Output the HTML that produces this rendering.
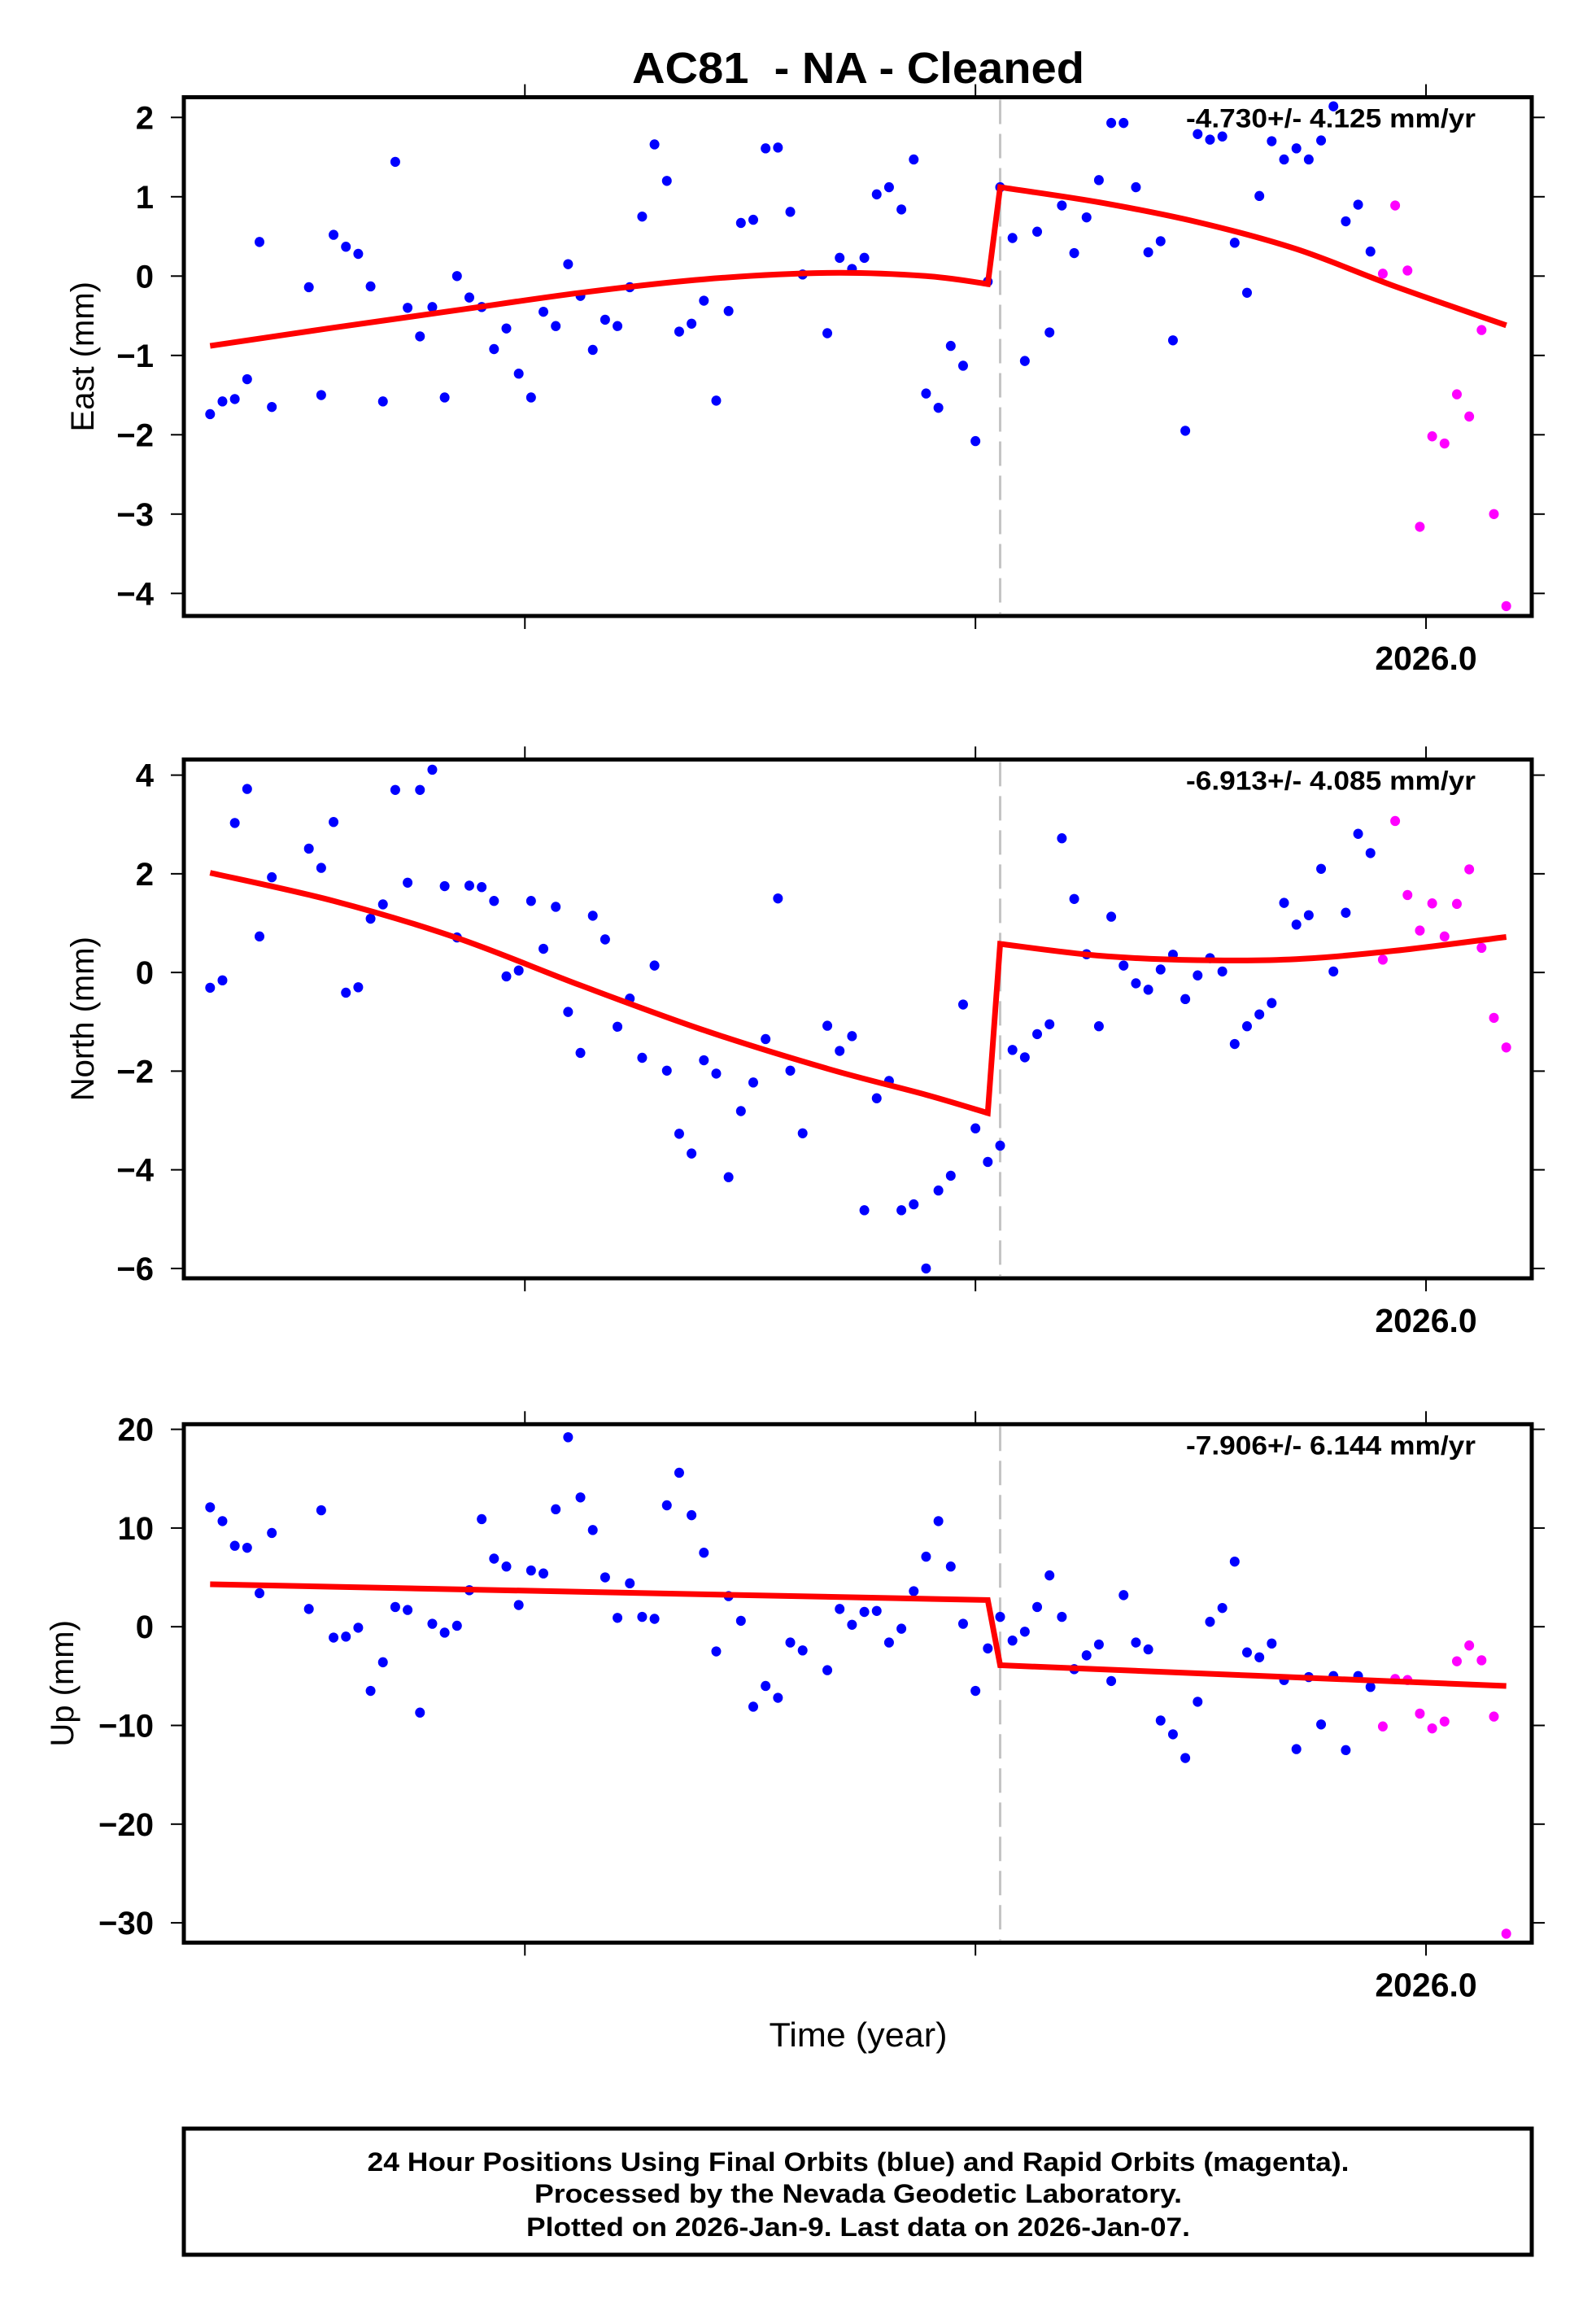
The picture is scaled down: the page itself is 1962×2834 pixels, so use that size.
<!DOCTYPE html>
<html><head><meta charset="utf-8">
<style>
html,body{margin:0;padding:0;background:#fff;}
svg{display:block;font-family:"Liberation Sans",Arial,sans-serif;}
</style></head>
<body>
<svg id="chart" width="1962" height="2834" viewBox="0 0 1962 2834" xmlns="http://www.w3.org/2000/svg">
<rect x="0" y="0" width="1962" height="2834" fill="#fff"/>
<text x="1055" y="102" text-anchor="middle" font-size="54" font-weight="bold" textLength="556" lengthAdjust="spacingAndGlyphs">AC81&#160; - NA - Cleaned</text>
<text x="1055" y="2515" text-anchor="middle" font-size="42" textLength="219" lengthAdjust="spacingAndGlyphs">Time (year)</text>
<rect x="226" y="2616" width="1657" height="155" fill="none" stroke="#000" stroke-width="5"/>
<text x="1055" y="2668" text-anchor="middle" font-size="32" font-weight="bold" textLength="1207" lengthAdjust="spacingAndGlyphs">24 Hour Positions Using Final Orbits (blue) and Rapid Orbits (magenta).</text>
<text x="1055" y="2707" text-anchor="middle" font-size="32" font-weight="bold" textLength="796" lengthAdjust="spacingAndGlyphs">Processed by the Nevada Geodetic Laboratory.</text>
<text x="1055" y="2748" text-anchor="middle" font-size="32" font-weight="bold" textLength="816" lengthAdjust="spacingAndGlyphs">Plotted on 2026-Jan-9. Last data on 2026-Jan-07.</text>
</svg>
<script>
// ---- shared x data (week index) ----
const xTickPos = [25.5, 62.0, 98.5];
const xTickLabels = ["", "", "2026.0"];
const breakIndex = 64.0;
const rapidStart = 95;

// ---- East ----
const eastIdx = [0,1,2,3,4,5,8,9,10,11,12,13,14,15,16,17,18,19,20,21,22,23,24,25,26,27,28,29,30,31,32,33,34,35,36,37,38,39,40,41,42,43,44,45,46,47,48,50,51,52,53,54,55,56,57,58,59,60,61,62,63,64,65,66,67,68,69,70,71,72,73,74,75,76,77,78,79,80,81,82,83,84,85,86,87,88,89,90,91,92,93,94,95,96,97,98,99,100,101,102,103,104,105];
const eastVal = [-1.74,-1.58,-1.55,-1.30,0.43,-1.65,-0.14,-1.50,0.52,0.37,0.28,-0.13,-1.58,1.44,-0.40,-0.76,-0.39,-1.53,0.0,-0.27,-0.39,-0.92,-0.66,-1.23,-1.53,-0.45,-0.63,0.15,-0.25,-0.93,-0.55,-0.63,-0.14,0.75,1.66,1.20,-0.70,-0.60,-0.31,-1.57,-0.44,0.67,0.71,1.61,1.62,0.81,0.02,-0.72,0.23,0.09,0.23,1.03,1.12,0.84,1.47,-1.48,-1.66,-0.88,-1.13,-2.08,-0.07,1.12,0.48,-1.07,0.56,-0.71,0.89,0.29,0.74,1.21,1.93,1.93,1.12,0.30,0.44,-0.81,-1.95,1.79,1.72,1.76,0.42,-0.21,1.01,1.70,1.47,1.61,1.47,1.71,2.14,0.69,0.90,0.31,0.03,0.89,0.07,-3.16,-2.02,-2.11,-1.49,-1.77,-0.68,-3.00,-4.16];
const eastFitIdxA = [0,10,20,30,40,50,58,63];
const eastFitValA = [-0.88,-0.65,-0.43,-0.21,-0.04,0.04,0.00,-0.10];
const eastFitIdxB = [64,72,80,88,96,105];
const eastFitValB = [1.12,0.93,0.68,0.34,-0.13,-0.62];
const eastTicks = [2,1,0,-1,-2,-3,-4];

// ---- North ----
const northIdx = eastIdx;
const northVal = [-0.31,-0.16,3.03,3.72,0.73,1.93,2.51,2.12,3.05,-0.41,-0.30,1.09,1.38,3.70,1.82,3.70,4.11,1.75,0.71,1.76,1.73,1.45,-0.08,0.04,1.45,0.48,1.33,-0.80,-1.63,1.15,0.67,-1.10,-0.53,-1.73,0.14,-1.99,-3.27,-3.67,-1.78,-2.05,-4.15,-2.81,-2.23,-1.35,1.50,-1.99,-3.26,-1.08,-1.59,-1.29,-4.82,-2.55,-2.20,-4.82,-4.70,-6.0,-4.42,-4.12,-0.65,-3.16,-3.84,-3.51,-1.57,-1.72,-1.25,-1.05,2.72,1.49,0.37,-1.09,1.13,0.14,-0.22,-0.35,0.06,0.36,-0.54,-0.06,0.29,0.02,-1.45,-1.09,-0.85,-0.62,1.41,0.97,1.16,2.10,0.02,1.21,2.81,2.42,0.26,3.07,1.57,0.85,1.40,0.73,1.39,2.09,0.50,-0.92,-1.52];
const northFitIdxA = [0,10,20,30,40,50,58,63];
const northFitValA = [2.02,1.45,0.70,-0.26,-1.17,-1.95,-2.48,-2.85];
const northFitIdxB = [64,72,80,88,96,105];
const northFitValB = [0.58,0.34,0.25,0.27,0.44,0.72];
const northTicks = [4,2,0,-2,-4,-6];

// ---- Up ----
const upIdx = eastIdx;
const upVal = [12.1,10.7,8.2,8.0,3.4,9.5,1.8,11.8,-1.1,-1.0,-0.1,-6.5,-3.6,2.0,1.7,-8.7,0.3,-0.6,0.1,3.7,10.9,6.9,6.1,2.2,5.7,5.4,11.9,19.2,13.1,9.8,5.0,0.9,4.4,1.0,0.8,12.3,15.6,11.3,7.5,-2.5,3.1,0.6,-8.1,-6.0,-7.2,-1.6,-2.4,-4.4,1.8,0.2,1.5,1.6,-1.6,-0.2,3.6,7.1,10.7,6.1,0.3,-6.5,-2.2,1.0,-1.4,-0.5,2.0,5.2,1.0,-4.3,-2.9,-1.8,-5.5,3.2,-1.6,-2.3,-9.5,-10.9,-13.3,-7.6,0.5,1.9,6.6,-2.6,-3.1,-1.7,-5.4,-12.4,-5.1,-9.9,-5.0,-12.5,-5.0,-6.1,-10.1,-5.3,-5.4,-8.8,-10.3,-9.6,-3.5,-1.9,-3.4,-9.1,-31.1];
const upFitIdxA = [0,63];
const upFitValA = [4.3,2.7];
const upFitIdxB = [64,105];
const upFitValB = [-3.9,-6.0];
const upTicks = [20,10,0,-10,-20,-30];

const NS = "http://www.w3.org/2000/svg";
const svg = document.getElementById('chart');
const X0 = 226, X1 = 1883;
function xs(i){ return 258.3 + 15.175 * i; }
function mk(tag, attrs, parent){
  const e = document.createElementNS(NS, tag);
  for (const k in attrs) e.setAttribute(k, attrs[k]);
  (parent || svg).appendChild(e);
  return e;
}
// smooth path through points (Catmull-Rom -> cubic bezier)
function smooth(pts){
  let d = '';
  for (let k = 0; k < pts.length - 1; k++){
    const p0 = pts[Math.max(k-1,0)], p1 = pts[k], p2 = pts[k+1], p3 = pts[Math.min(k+2, pts.length-1)];
    const c1 = [p1[0] + (p2[0]-p0[0])/6, p1[1] + (p2[1]-p0[1])/6];
    const c2 = [p2[0] - (p3[0]-p1[0])/6, p2[1] - (p3[1]-p1[1])/6];
    d += ` C${c1[0].toFixed(1)},${c1[1].toFixed(1)} ${c2[0].toFixed(1)},${c2[1].toFixed(1)} ${p2[0].toFixed(1)},${p2[1].toFixed(1)}`;
  }
  return d;
}

function panel(cfg){
  const g = mk('g', {});
  
  
  const ys = v => cfg.yA + (cfg.vA - v) * cfg.ppu;
  cfg.ticks.forEach(t => {
    const y = ys(t);
    const tl = mk('line', {x1: X0-16, x2: X0, y1: y, y2: y, stroke:'#000','stroke-width':2}, g);
    
    
    const tr = mk('line', {x1: X1, x2: X1+16, y1: y, y2: y, stroke:'#000','stroke-width':2}, g);
    
    
    const lb = mk('text', {x: 189, y: y + 14, 'text-anchor':'end','font-size':40,'font-weight':'bold'}, g);
    lb.textContent = (t < 0 ? '\u2212' + Math.abs(t) : String(t));
    
    
  });
  xTickPos.forEach((p, k) => {
    const x = xs(p);
    const t1 = mk('line', {x1:x, x2:x, y1: cfg.top-16, y2: cfg.top, stroke:'#000','stroke-width':2}, g);
    
    
    const t2 = mk('line', {x1:x, x2:x, y1: cfg.bottom, y2: cfg.bottom+16, stroke:'#000','stroke-width':2}, g);
    
    
    if (xTickLabels[k]) {
      const lb = mk('text', {x: x, y: cfg.bottom + 66, 'text-anchor':'middle','font-size':41,'font-weight':'bold'}, g);
      lb.textContent = xTickLabels[k];
      
      
    }
  });
  const cy = (cfg.top + cfg.bottom) / 2;
  const yt = mk('text', {x: cfg.titleX, y: cy, 'text-anchor':'middle','font-size':40, transform:`rotate(-90 ${cfg.titleX} ${cy})`, dy: 14}, g);
  yt.textContent = cfg.title;
  
  
  const bx = xs(breakIndex);
  const dl = mk('line', {x1:bx, x2:bx, y1:cfg.top+3, y2:cfg.bottom-3, stroke:'#c4c4c4','stroke-width':3,'stroke-dasharray':'30 12'}, g);
  
  
  cfg.idx.forEach((i, k) => {
    const c = mk('ellipse', {cx: xs(i), cy: ys(cfg.val[k]), rx: 6, ry: 6.2, fill: i >= rapidStart ? '#ff00ff' : '#0000ff'}, g);
    
    
  });
  const ptsA = cfg.fitIdxA.map((i,k) => [xs(i), ys(cfg.fitValA[k])]);
  const ptsB = cfg.fitIdxB.map((i,k) => [xs(i), ys(cfg.fitValB[k])]);
  const d = `M${ptsA[0][0].toFixed(1)},${ptsA[0][1].toFixed(1)}` + smooth(ptsA) +
            ` L${ptsB[0][0].toFixed(1)},${ptsB[0][1].toFixed(1)}` + smooth(ptsB);
  const fl = mk('path', {d: d, fill:'none', stroke:'#ff0000','stroke-width':7,'stroke-linejoin':'miter','stroke-miterlimit':4}, g);
  
  
  const fr = mk('rect', {x: X0, y: cfg.top, width: X1-X0, height: cfg.bottom-cfg.top, fill:'none', stroke:'#000','stroke-width':5}, g);
  
  
  const rt = mk('text', {x: 1814, y: cfg.top + 37, 'text-anchor':'end','font-size':32,'font-weight':'bold', textLength: 356, lengthAdjust:'spacingAndGlyphs'}, g);
  rt.textContent = cfg.rate;
  
  
}

panel({name:'east', title:'East (mm)', titleX:101, top:119.5, bottom:757, vA:2, yA:144.3, ppu:97.5,
  ticks:eastTicks, idx:eastIdx, val:eastVal, fitIdxA:eastFitIdxA, fitValA:eastFitValA, fitIdxB:eastFitIdxB, fitValB:eastFitValB,
  rate:'-4.730+/- 4.125 mm/yr'});
panel({name:'north', title:'North (mm)', titleX:101, top:933.4, bottom:1571, vA:4, yA:952.6, ppu:60.63,
  ticks:northTicks, idx:northIdx, val:northVal, fitIdxA:northFitIdxA, fitValA:northFitValA, fitIdxB:northFitIdxB, fitValB:northFitValB,
  rate:'-6.913+/- 4.085 mm/yr'});
panel({name:'up', title:'Up (mm)', titleX:76, top:1750.3, bottom:2387.4, vA:20, yA:1756.6, ppu:12.13,
  ticks:upTicks, idx:upIdx, val:upVal, fitIdxA:upFitIdxA, fitValA:upFitValA, fitIdxB:upFitIdxB, fitValB:upFitValB,
  rate:'-7.906+/- 6.144 mm/yr'});
</script>
</body></html>
